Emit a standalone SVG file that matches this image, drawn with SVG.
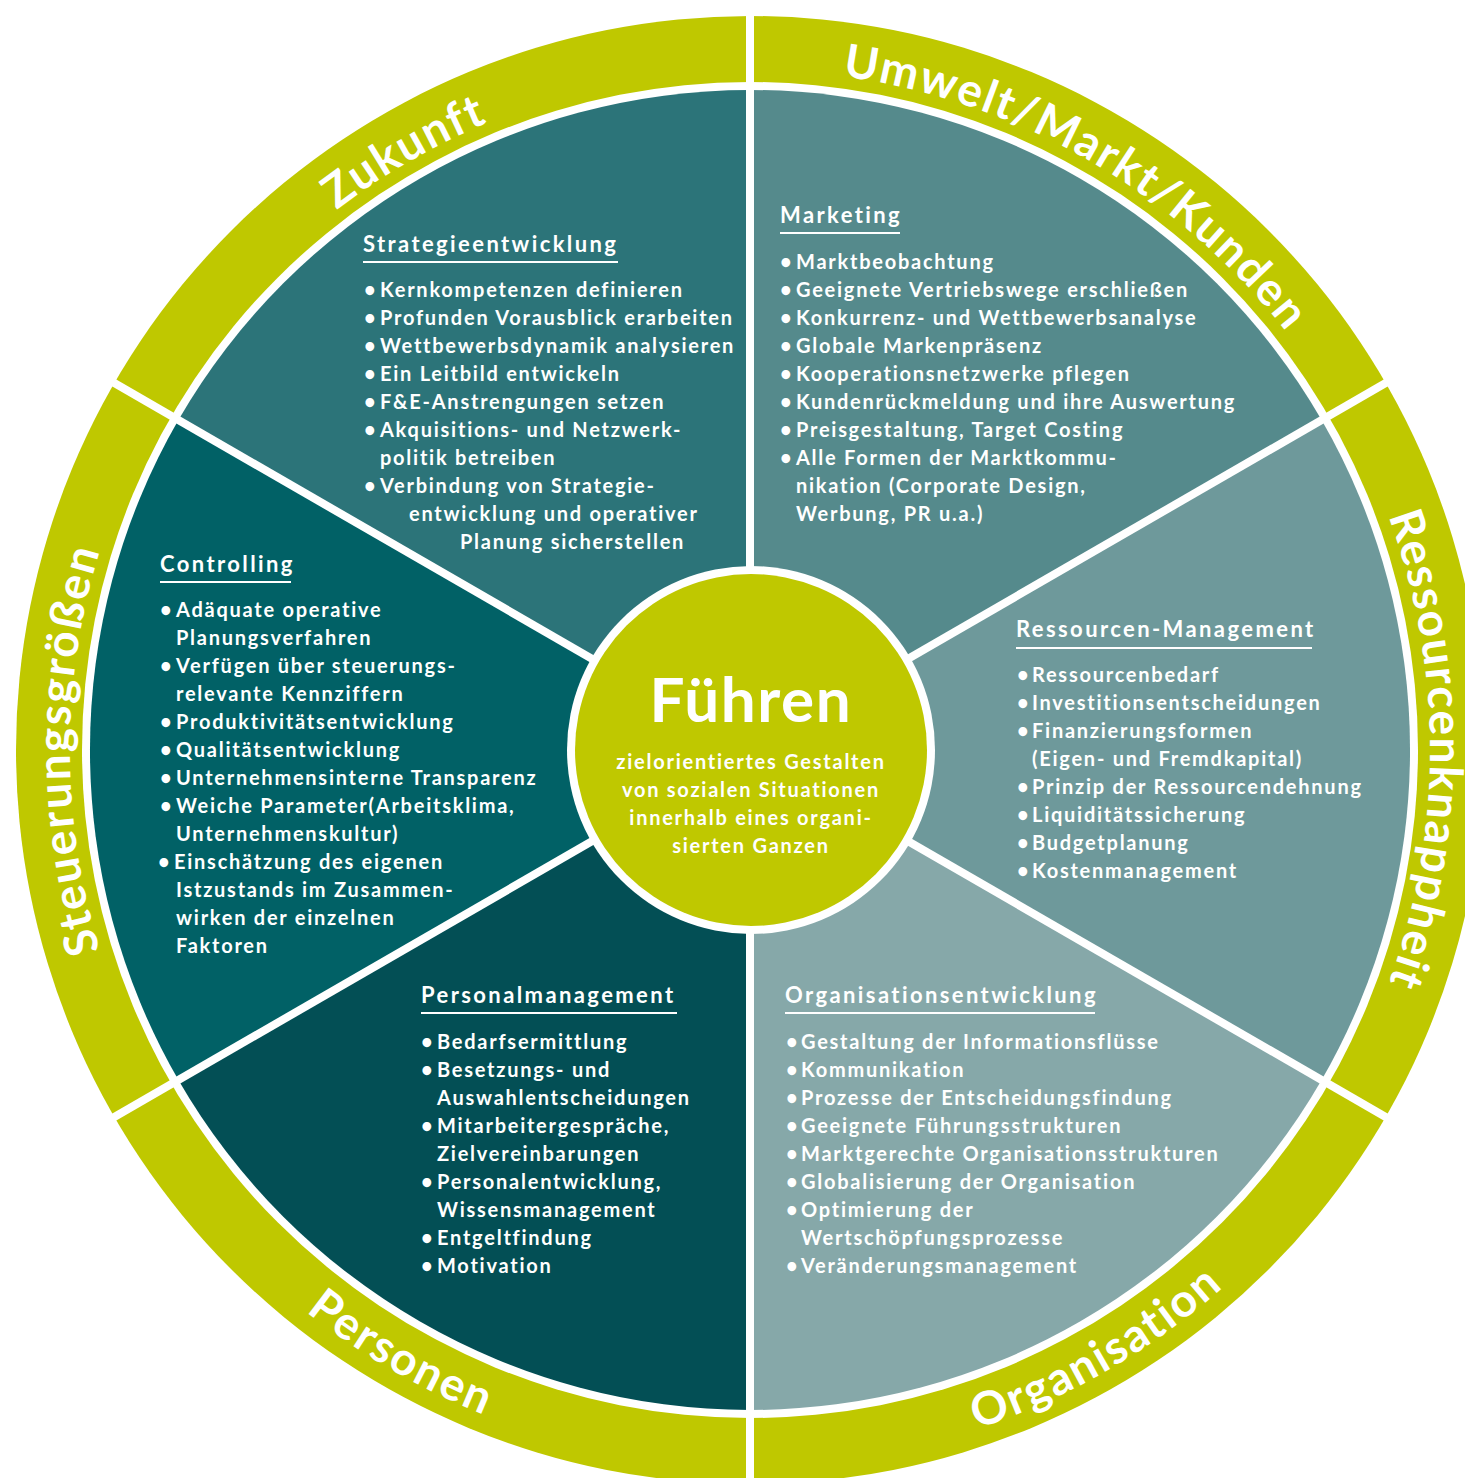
<svg xmlns="http://www.w3.org/2000/svg" width="1465" height="1478" viewBox="0 0 1465 1478">
  <style>
    text { font-family: Lato, "Open Sans", "Liberation Sans", sans-serif; font-weight: 700; fill: #ffffff; }
    .title { font-size: 22px; letter-spacing: 2.4px; }
    .item { font-size: 20px; letter-spacing: 1.75px; }
    .rule { stroke: #ffffff; stroke-width: 2; }
    .ring-label { font-size: 46px; letter-spacing: 2px; }
    .divider { stroke: #ffffff; stroke-width: 8; }
  </style>
  <defs>
    <!-- clockwise baselines (letter tops pointing outwards) -->
    <path id="arc-zukunft" d="M70,750 A680,680 0 0 1 1090,161.1"/>
    <path id="arc-umwelt" d="M410,161.1 A680,680 0 0 1 1430,750"/>
    <path id="arc-ressourcen" d="M1090,161.1 A680,680 0 0 1 1090,1338.9"/>
    <path id="arc-steuerung" d="M410,1338.9 A680,680 0 0 1 410,161.1"/>
    <!-- counter-clockwise baselines (letter tops pointing inwards) -->
    <path id="arc-personen" d="M34,750 A716,716 0 0 0 1108,1370.1"/>
    <path id="arc-organisation" d="M392,1370.1 A716,716 0 0 0 1466,750"/>
  </defs>

  <rect width="1465" height="1478" fill="#ffffff"/>

  <!-- outer ring -->
  <g id="ring">
    <circle cx="750" cy="750" r="734" fill="#bfc800"/>
    <circle cx="750" cy="750" r="668" fill="#ffffff"/>
  </g>

  <!-- Strategieentwicklung -->
  <g id="seg-strategie">
    <path d="M750,750 L178.4,420 A660,660 0 0 1 750,90 Z" fill="#2c7479"/>
    <text class="title" x="363" y="252">Strategieentwicklung</text>
    <line class="rule" x1="363" y1="262" x2="618" y2="262"/>
    <text class="item" y="297"><tspan x="364">•</tspan><tspan x="380">Kernkompetenzen definieren</tspan></text>
    <text class="item" y="325"><tspan x="364">•</tspan><tspan x="380">Profunden Vorausblick erarbeiten</tspan></text>
    <text class="item" y="353"><tspan x="364">•</tspan><tspan x="380">Wettbewerbsdynamik analysieren</tspan></text>
    <text class="item" y="381"><tspan x="364">•</tspan><tspan x="380">Ein Leitbild entwickeln</tspan></text>
    <text class="item" y="409"><tspan x="364">•</tspan><tspan x="380">F&amp;E-Anstrengungen setzen</tspan></text>
    <text class="item" y="437"><tspan x="364">•</tspan><tspan x="380">Akquisitions- und Netzwerk-</tspan></text>
    <text class="item" x="380" y="465">politik betreiben</text>
    <text class="item" y="493"><tspan x="364">•</tspan><tspan x="380">Verbindung von Strategie-</tspan></text>
    <text class="item" x="409" y="521">entwicklung und operativer</text>
    <text class="item" x="460" y="549">Planung sicherstellen</text>
  </g>

  <!-- Marketing -->
  <g id="seg-marketing">
    <path d="M750,750 L750,90 A660,660 0 0 1 1321.6,420 Z" fill="#558a8c"/>
    <text class="title" x="780" y="223">Marketing</text>
    <line class="rule" x1="780" y1="233" x2="900" y2="233"/>
    <text class="item" y="269"><tspan x="780">•</tspan><tspan x="796">Marktbeobachtung</tspan></text>
    <text class="item" y="297"><tspan x="780">•</tspan><tspan x="796">Geeignete Vertriebswege erschließen</tspan></text>
    <text class="item" y="325"><tspan x="780">•</tspan><tspan x="796">Konkurrenz- und Wettbewerbsanalyse</tspan></text>
    <text class="item" y="353"><tspan x="780">•</tspan><tspan x="796">Globale Markenpräsenz</tspan></text>
    <text class="item" y="381"><tspan x="780">•</tspan><tspan x="796">Kooperationsnetzwerke pflegen</tspan></text>
    <text class="item" y="409"><tspan x="780">•</tspan><tspan x="796">Kundenrückmeldung und ihre Auswertung</tspan></text>
    <text class="item" y="437"><tspan x="780">•</tspan><tspan x="796">Preisgestaltung, Target Costing</tspan></text>
    <text class="item" y="465"><tspan x="780">•</tspan><tspan x="796">Alle Formen der Marktkommu-</tspan></text>
    <text class="item" x="796" y="493">nikation (Corporate Design,</text>
    <text class="item" x="796" y="521">Werbung, PR u.a.)</text>
  </g>

  <!-- Ressourcen-Management -->
  <g id="seg-ressourcen">
    <path d="M750,750 L1321.6,420 A660,660 0 0 1 1321.6,1080 Z" fill="#6e999b"/>
    <text class="title" x="1016" y="637">Ressourcen-Management</text>
    <line class="rule" x1="1016" y1="648" x2="1312" y2="648"/>
    <text class="item" y="682"><tspan x="1017">•</tspan><tspan x="1032">Ressourcenbedarf</tspan></text>
    <text class="item" y="710"><tspan x="1017">•</tspan><tspan x="1032">Investitionsentscheidungen</tspan></text>
    <text class="item" y="738"><tspan x="1017">•</tspan><tspan x="1032">Finanzierungsformen</tspan></text>
    <text class="item" x="1032" y="766">(Eigen- und Fremdkapital)</text>
    <text class="item" y="794"><tspan x="1017">•</tspan><tspan x="1032">Prinzip der Ressourcendehnung</tspan></text>
    <text class="item" y="822"><tspan x="1017">•</tspan><tspan x="1032">Liquiditätssicherung</tspan></text>
    <text class="item" y="850"><tspan x="1017">•</tspan><tspan x="1032">Budgetplanung</tspan></text>
    <text class="item" y="878"><tspan x="1017">•</tspan><tspan x="1032">Kostenmanagement</tspan></text>
  </g>

  <!-- Organisationsentwicklung -->
  <g id="seg-organisation">
    <path d="M750,750 L1321.6,1080 A660,660 0 0 1 750,1410 Z" fill="#86a8a9"/>
    <text class="title" x="785" y="1003">Organisationsentwicklung</text>
    <line class="rule" x1="785" y1="1013" x2="1095" y2="1013"/>
    <text class="item" y="1049"><tspan x="786">•</tspan><tspan x="801">Gestaltung der Informationsflüsse</tspan></text>
    <text class="item" y="1077"><tspan x="786">•</tspan><tspan x="801">Kommunikation</tspan></text>
    <text class="item" y="1105"><tspan x="786">•</tspan><tspan x="801">Prozesse der Entscheidungsfindung</tspan></text>
    <text class="item" y="1133"><tspan x="786">•</tspan><tspan x="801">Geeignete Führungsstrukturen</tspan></text>
    <text class="item" y="1161"><tspan x="786">•</tspan><tspan x="801">Marktgerechte Organisationsstrukturen</tspan></text>
    <text class="item" y="1189"><tspan x="786">•</tspan><tspan x="801">Globalisierung der Organisation</tspan></text>
    <text class="item" y="1217"><tspan x="786">•</tspan><tspan x="801">Optimierung der</tspan></text>
    <text class="item" x="801" y="1245">Wertschöpfungsprozesse</text>
    <text class="item" y="1273"><tspan x="786">•</tspan><tspan x="801">Veränderungsmanagement</tspan></text>
  </g>

  <!-- Personalmanagement -->
  <g id="seg-personal">
    <path d="M750,750 L750,1410 A660,660 0 0 1 178.4,1080 Z" fill="#034f55"/>
    <text class="title" x="421" y="1003">Personalmanagement</text>
    <line class="rule" x1="421" y1="1013" x2="677" y2="1013"/>
    <text class="item" y="1049"><tspan x="421">•</tspan><tspan x="437">Bedarfsermittlung</tspan></text>
    <text class="item" y="1077"><tspan x="421">•</tspan><tspan x="437">Besetzungs- und</tspan></text>
    <text class="item" x="437" y="1105">Auswahlentscheidungen</text>
    <text class="item" y="1133"><tspan x="421">•</tspan><tspan x="437">Mitarbeitergespräche,</tspan></text>
    <text class="item" x="437" y="1161">Zielvereinbarungen</text>
    <text class="item" y="1189"><tspan x="421">•</tspan><tspan x="437">Personalentwicklung,</tspan></text>
    <text class="item" x="437" y="1217">Wissensmanagement</text>
    <text class="item" y="1245"><tspan x="421">•</tspan><tspan x="437">Entgeltfindung</tspan></text>
    <text class="item" y="1273"><tspan x="421">•</tspan><tspan x="437">Motivation</tspan></text>
  </g>

  <!-- Controlling -->
  <g id="seg-controlling">
    <path d="M750,750 L178.4,1080 A660,660 0 0 1 178.4,420 Z" fill="#016166"/>
    <text class="title" x="160" y="572">Controlling</text>
    <line class="rule" x1="160" y1="582" x2="291" y2="582"/>
    <text class="item" y="617"><tspan x="160">•</tspan><tspan x="176">Adäquate operative</tspan></text>
    <text class="item" x="176" y="645">Planungsverfahren</text>
    <text class="item" y="673"><tspan x="160">•</tspan><tspan x="176">Verfügen über steuerungs-</tspan></text>
    <text class="item" x="176" y="701">relevante Kennziffern</text>
    <text class="item" y="729"><tspan x="160">•</tspan><tspan x="176">Produktivitätsentwicklung</tspan></text>
    <text class="item" y="757"><tspan x="160">•</tspan><tspan x="176">Qualitätsentwicklung</tspan></text>
    <text class="item" y="785"><tspan x="160">•</tspan><tspan x="176">Unternehmensinterne Transparenz</tspan></text>
    <text class="item" y="813"><tspan x="160">•</tspan><tspan x="176">Weiche Parameter(Arbeitsklima,</tspan></text>
    <text class="item" x="176" y="841">Unternehmenskultur)</text>
    <text class="item" y="869"><tspan x="158">•</tspan><tspan x="174">Einschätzung des eigenen</tspan></text>
    <text class="item" x="176" y="897">Istzustands im Zusammen-</text>
    <text class="item" x="176" y="925">wirken der einzelnen</text>
    <text class="item" x="176" y="953">Faktoren</text>
  </g>

  <!-- white separators through segments and ring -->
  <g id="dividers">
    <line class="divider" x1="750" y1="0" x2="750" y2="1478"/>
    <line class="divider" x1="1395.2" y1="377.5" x2="104.8" y2="1122.5"/>
    <line class="divider" x1="104.8" y1="377.5" x2="1395.2" y2="1122.5"/>
  </g>

  <!-- ring labels -->
  <g id="label-zukunft"><text class="ring-label"><textPath href="#arc-zukunft" startOffset="50%" text-anchor="middle">Zukunft</textPath></text></g>
  <g id="label-umwelt"><text class="ring-label"><textPath href="#arc-umwelt" startOffset="50%" text-anchor="middle">Umwelt/Markt/Kunden</textPath></text></g>
  <g id="label-ressourcen"><text class="ring-label"><textPath href="#arc-ressourcen" startOffset="50%" text-anchor="middle">Ressourcenknappheit</textPath></text></g>
  <g id="label-organisation"><text class="ring-label"><textPath href="#arc-organisation" startOffset="50%" text-anchor="middle">Organisation</textPath></text></g>
  <g id="label-personen"><text class="ring-label"><textPath href="#arc-personen" startOffset="50%" text-anchor="middle">Personen</textPath></text></g>
  <g id="label-steuerung"><text class="ring-label"><textPath href="#arc-steuerung" startOffset="50%" text-anchor="middle">Steuerungsgrößen</textPath></text></g>

  <!-- centre -->
  <g id="center">
    <circle cx="751" cy="750" r="184" fill="#ffffff"/>
    <circle cx="751" cy="750" r="176" fill="#bfc800"/>
    <text x="751" y="722" text-anchor="middle" style="font-size:62px; letter-spacing:1.6px;">Führen</text>
    <text class="item" x="751" y="769" text-anchor="middle">zielorientiertes Gestalten</text>
    <text class="item" x="751" y="797" text-anchor="middle">von sozialen Situationen</text>
    <text class="item" x="751" y="825" text-anchor="middle">innerhalb eines organi-</text>
    <text class="item" x="751" y="853" text-anchor="middle">sierten Ganzen</text>
  </g>
</svg>
